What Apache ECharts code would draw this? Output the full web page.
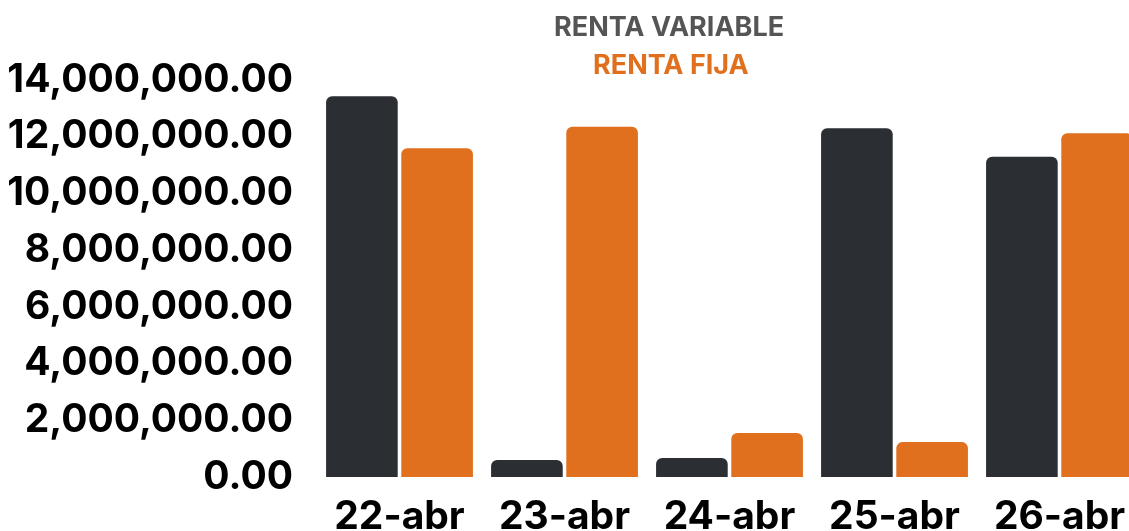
<!DOCTYPE html>
<html>
<head>
<meta charset="utf-8">
<script src="https://cdn.jsdelivr.net/npm/echarts@6/dist/echarts.min.js"></script>
<style>
  html, body { margin: 0; padding: 0; background: #fff; }
  #chart { width: 1129px; height: 531px; }
</style>
</head>
<body>
<div id="chart"></div>
<script>
// datos
const categories = ['22-abr', '23-abr', '24-abr', '25-abr', '26-abr']
const rentaVariable = [13430000, 600000, 670000, 12300000, 11290000]
const rentaFija = [11590000, 12350000, 1550000, 1230000, 12120000]
const yMax = 14000000
const yInterval = 2000000

const dark = '#2b2f33'
const orange = '#e0701e'
const font = 'Inter, "Liberation Sans", Arial, sans-serif'

const chart = echarts.init(document.getElementById('chart'))

chart.setOption({
  animation: false,
  legend: [
    {
      left: 549,
      top: 14,
      padding: 0,
      itemWidth: 0,
      itemHeight: 0,
      icon: 'none',
      selectedMode: false,
      data: [{ name: 'RENTA VARIABLE', textStyle: { color: '#555555' } }],
      textStyle: { fontFamily: font, fontWeight: 'bold', fontSize: 27 }
    },
    {
      left: 588,
      top: 52,
      padding: 0,
      itemWidth: 0,
      itemHeight: 0,
      icon: 'none',
      selectedMode: false,
      data: [{ name: 'RENTA FIJA', textStyle: { color: orange } }],
      textStyle: { fontFamily: font, fontWeight: 'bold', fontSize: 27 }
    }
  ],
  grid: {
    left: 317,
    right: -13,
    top: 80,
    bottom: 54,
    outerBoundsMode: 'none',
    containLabel: false
  },
  xAxis: {
    type: 'category',
    data: categories,
    axisLine: { show: false },
    axisTick: { show: false },
    axisLabel: {
      interval: 0,
      margin: 21,
      color: '#000',
      fontFamily: font,
      fontWeight: 'bold',
      fontSize: 39
    }
  },
  yAxis: {
    type: 'value',
    min: 0,
    max: yMax,
    interval: yInterval,
    axisLine: { show: false },
    axisTick: { show: false },
    splitLine: { show: false },
    axisLabel: {
      margin: 24,
      color: '#000',
      fontFamily: font,
      fontWeight: 'bold',
      fontSize: 39,
      formatter: function(v) {
        return v.toLocaleString('en-US', { minimumFractionDigits: 2, maximumFractionDigits: 2 })
      }
    }
  },
  series: [
    {
      name: 'RENTA VARIABLE',
      type: 'bar',
      data: rentaVariable,
      barGap: '5%',
      barCategoryGap: '11%',
      itemStyle: { color: dark, borderRadius: [6, 6, 0, 0] }
    },
    {
      name: 'RENTA FIJA',
      type: 'bar',
      data: rentaFija,
      itemStyle: { color: orange, borderRadius: [6, 6, 0, 0] }
    }
  ]
})
</script>
</body>
</html>
